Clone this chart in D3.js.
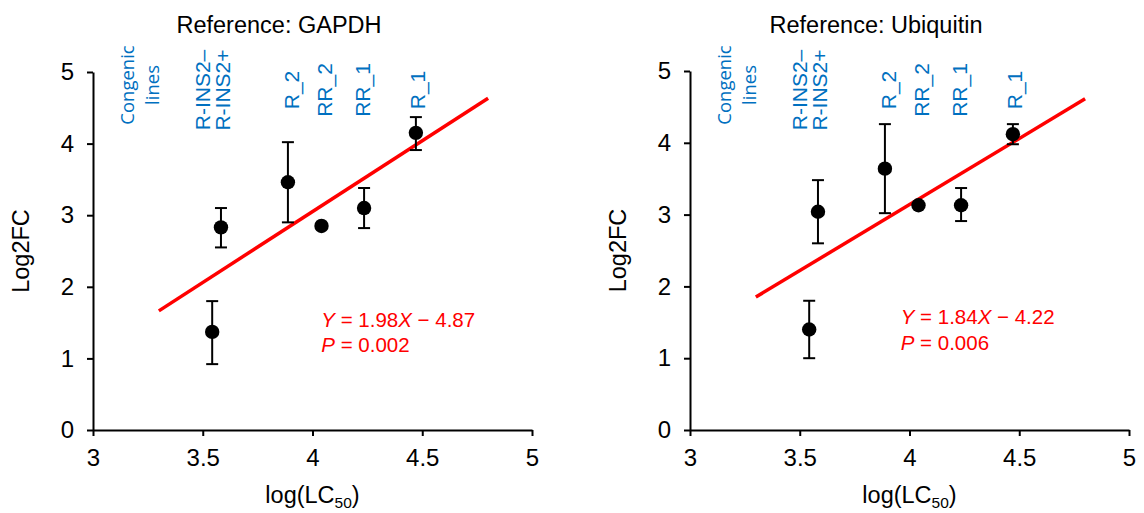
<!DOCTYPE html>
<html><head><meta charset="utf-8">
<script src="https://cdn.jsdelivr.net/npm/d3@7"></script>
<style>body{margin:0;background:#fff} svg{display:block}</style>
</head><body>
<svg id="chart" width="1144" height="513"></svg>
<script>
// ---- data ----
const strains = ["R-INS2–", "R-INS2+", "R_2", "RR_2", "RR_1", "R_1"];
const logLC50 = [3.543, 3.583, 3.888, 4.041, 4.235, 4.471];

const gapdhMean  = [1.37, 2.83, 3.46, 2.85, 3.10, 4.15];
const gapdhLower = [0.92, 2.55, 2.90, 2.85, 2.82, 3.91];
const gapdhUpper = [1.80, 3.10, 4.02, 2.85, 3.38, 4.37];

const ubqMean  = [1.40, 3.04, 3.64, 3.13, 3.13, 4.12];
const ubqLower = [1.00, 2.60, 3.02, 3.13, 2.91, 3.98];
const ubqUpper = [1.80, 3.48, 4.26, 3.13, 3.37, 4.26];

const panelTitles = ["Reference: GAPDH", "Reference: Ubiquitin"];
const slopes = [1.98, 1.84];
const intercepts = [-4.87, -4.22];
const pValues = ["0.002", "0.006"];
const fitRange = [3.3, 4.8];

const xTicks = [3, 3.5, 4, 4.5, 5];
const yTicks = [0, 1, 2, 3, 4, 5];

// rotated strain labels (label text, x position in data units)
const labelTexts = ["Congenic", "lines", "R-INS2–", "R-INS2+", "R_2", "RR_2", "RR_1", "R_1"];
const labelX = [3.155, 3.273, 3.50, 3.59, 3.903, 4.055, 4.227, 4.477];

// ---- drawing ----
const svg = d3.select("#chart");
const FONT = "'Liberation Sans', Arial, sans-serif";
const panels = [
  {left: 93, right: 532, top: 72, bottom: 430, mean: gapdhMean, lo: gapdhLower, hi: gapdhUpper, eqX: 4.04, eqY: [1.44, 1.09]},
  {left: 690, right: 1129, top: 71, bottom: 430, mean: ubqMean, lo: ubqLower, hi: ubqUpper, eqX: 3.96, eqY: [1.48, 1.12]}
];

panels.forEach((p, i) => {
  const x = d3.scaleLinear().domain([3, 5]).range([p.left, p.right]);
  const y = d3.scaleLinear().domain([0, 5]).range([p.bottom, p.top]);
  const g = svg.append("g");

  // title
  g.append("text").attr("x", p.left + 186).attr("y", 33)
    .attr("text-anchor", "middle").attr("font-family", FONT).attr("font-size", 23.5)
    .text(panelTitles[i]);

  // axes
  const xAxis = g.append("g").attr("transform", `translate(0,${p.bottom})`)
    .call(d3.axisBottom(x).tickValues(xTicks).tickFormat(d3.format("")).tickSize(6).tickSizeOuter(0).tickPadding(13));
  const yAxis = g.append("g").attr("transform", `translate(${p.left},0)`)
    .call(d3.axisLeft(y).tickValues(yTicks).tickFormat(d3.format("d")).tickSize(6).tickSizeOuter(0).tickPadding(13));
  [xAxis, yAxis].forEach(a => {
    a.selectAll("path,line").attr("stroke", "#000").attr("stroke-width", 2);
    a.selectAll("text").attr("font-family", FONT).attr("font-size", 24).attr("fill", "#000");
  });

  // axis titles
  const xt = g.append("text").attr("x", (p.left + p.right) / 2).attr("y", 503)
    .attr("text-anchor", "middle").attr("font-family", FONT).attr("font-size", 23.5);
  xt.append("tspan").text("log(LC");
  xt.append("tspan").attr("font-size", 15.5).attr("dy", 5).text("50");
  xt.append("tspan").attr("dy", -5).text(")");

  g.append("text").attr("transform", `translate(${p.left - 64},${(p.top + p.bottom) / 2}) rotate(-90)`)
    .attr("text-anchor", "middle").attr("font-family", FONT).attr("font-size", 23.5)
    .text("Log2FC");

  // rotated strain labels
  labelTexts.forEach((t, k) => {
    const congenic = k < 2;
    g.append("text")
      .attr("transform", `translate(${x(labelX[k])},${congenic ? 85 : 90}) rotate(-90)`)
      .attr("dy", "0.35em")
      .attr("text-anchor", "middle")
      .attr("font-family", congenic ? "'Open Sans', sans-serif" : FONT)
      .attr("font-size", congenic ? 18.5 : 21)
      .attr("fill", "#0070C0")
      .text(t);
  });

  // regression line
  g.append("line")
    .attr("x1", x(fitRange[0])).attr("y1", y(slopes[i] * fitRange[0] + intercepts[i]))
    .attr("x2", x(fitRange[1])).attr("y2", y(slopes[i] * fitRange[1] + intercepts[i]))
    .attr("stroke", "#FF0000").attr("stroke-width", 3.5);

  // error bars
  const eb = g.append("g").attr("stroke", "#000").attr("stroke-width", 2);
  logLC50.forEach((v, k) => {
    eb.append("line").attr("x1", x(v)).attr("x2", x(v)).attr("y1", y(p.lo[k])).attr("y2", y(p.hi[k]));
    [p.lo[k], p.hi[k]].forEach(e => {
      eb.append("line").attr("x1", x(v) - 6).attr("x2", x(v) + 6).attr("y1", y(e)).attr("y2", y(e));
    });
  });

  // points
  g.selectAll("circle.pt").data(logLC50).enter().append("circle")
    .attr("cx", d => x(d)).attr("cy", (d, k) => y(p.mean[k])).attr("r", 7.2).attr("fill", "#000");

  // equation
  const e1 = g.append("text").attr("x", x(p.eqX)).attr("y", y(p.eqY[0]))
    .attr("font-family", FONT).attr("font-size", 20.5).attr("fill", "#FF0000");
  e1.append("tspan").attr("font-style", "italic").text("Y");
  e1.append("tspan").text(` = ${slopes[i].toFixed(2)}`);
  e1.append("tspan").attr("font-style", "italic").text("X");
  e1.append("tspan").text(` − ${Math.abs(intercepts[i]).toFixed(2)}`);
  const e2 = g.append("text").attr("x", x(p.eqX)).attr("y", y(p.eqY[1]))
    .attr("font-family", FONT).attr("font-size", 20.5).attr("fill", "#FF0000");
  e2.append("tspan").attr("font-style", "italic").text("P");
  e2.append("tspan").text(` = ${pValues[i]}`);
});
</script>
</body></html>
